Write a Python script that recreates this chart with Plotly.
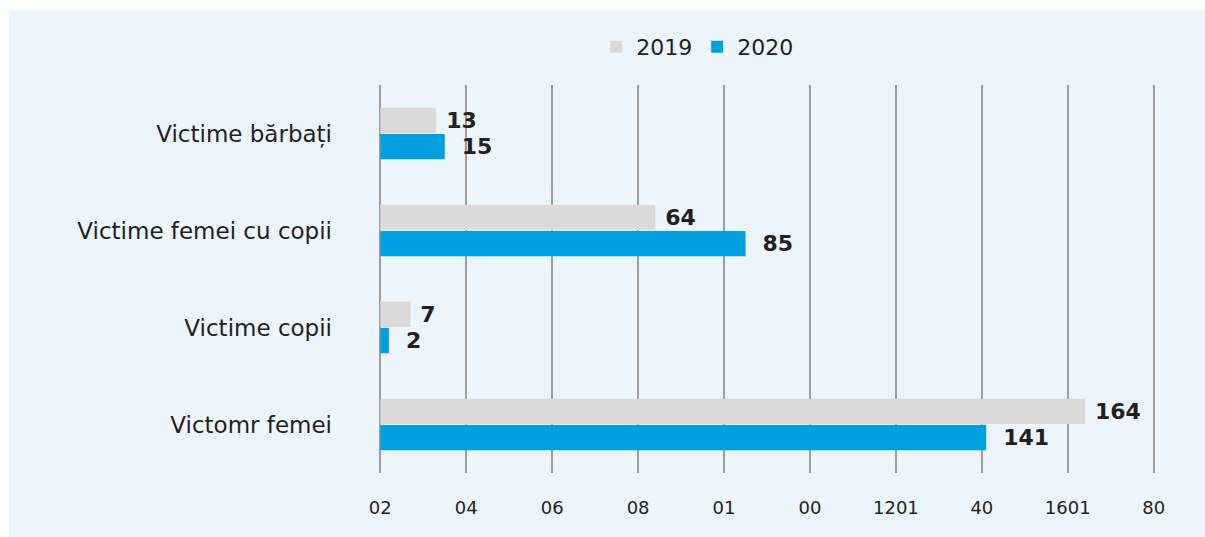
import plotly.graph_objects as go

categories = ["Victime bărbați", "Victime femei cu copii", "Victime copii", "Victomr femei"]
values_2019 = [13, 64, 7, 164]
values_2020 = [15, 85, 2, 141]
tick_vals = [0, 20, 40, 60, 80, 100, 120, 140, 160, 180]
tick_text = ["02", "04", "06", "08", "01", "00", "1201", "40", "1601", "80"]

FONT = "DejaVu Sans"
DARK = "#231F20"

fig = go.Figure()
fig.add_trace(go.Bar(
    y=categories, x=values_2019, name="2019", orientation="h",
    marker=dict(color="#DCDAD8", line=dict(width=0)),
    texttemplate="\u00a0<b>%{x}</b>", textposition="outside",
    textfont=dict(family=FONT, size=22, color=DARK), cliponaxis=False,
))
fig.add_trace(go.Bar(
    y=categories, x=values_2020, name="2020", orientation="h",
    marker=dict(color="#009FDF", line=dict(width=0)),
    texttemplate="\u00a0\u00a0<b>%{x}</b>", textposition="outside",
    textfont=dict(family=FONT, size=22, color=DARK), cliponaxis=False,
))

L, R, T, B = 379, 50, 85, 64
W, H = 1205, 537
pw, ph = W - L - R, H - T - B

fig.add_shape(type="rect", xref="paper", yref="paper", layer="below",
              x0=(9 - L) / pw, x1=(1205 - L) / pw,
              y0=((H - B) - 537) / ph, y1=((H - B) - 10) / ph,
              fillcolor="#ECF4FC", line=dict(width=0))

fig.update_layout(
    width=W, height=H,
    margin=dict(l=L, r=R, t=T, b=B, pad=0),
    paper_bgcolor="white", plot_bgcolor="rgba(0,0,0,0)",
    barmode="group", bargap=0.46, bargroupgap=0.03,
    font=dict(family=FONT, color=DARK),
    legend=dict(orientation="h", x=0.41, xanchor="center", y=1.098, yanchor="middle",
                font=dict(family=FONT, size=22, color=DARK),
                bgcolor="rgba(0,0,0,0)", traceorder="normal"),
    xaxis=dict(range=[-0.3, 180.3], tickvals=tick_vals, ticktext=tick_text,
               showgrid=True, gridcolor="#9E9E9E", gridwidth=2,
               zeroline=False, showline=False,
               tickfont=dict(family=FONT, size=18, color=DARK),
               ticks="", ticklabelstandoff=22),
    yaxis=dict(autorange="reversed", showgrid=False, zeroline=False, showline=False,
               tickfont=dict(family=FONT, size=23, color=DARK),
               ticks="", ticklabelstandoff=46),
)

fig.write_html("out.html", config={"displayModeBar": False},
               post_script="document.body.style.margin='0';document.body.style.overflow='hidden';")
